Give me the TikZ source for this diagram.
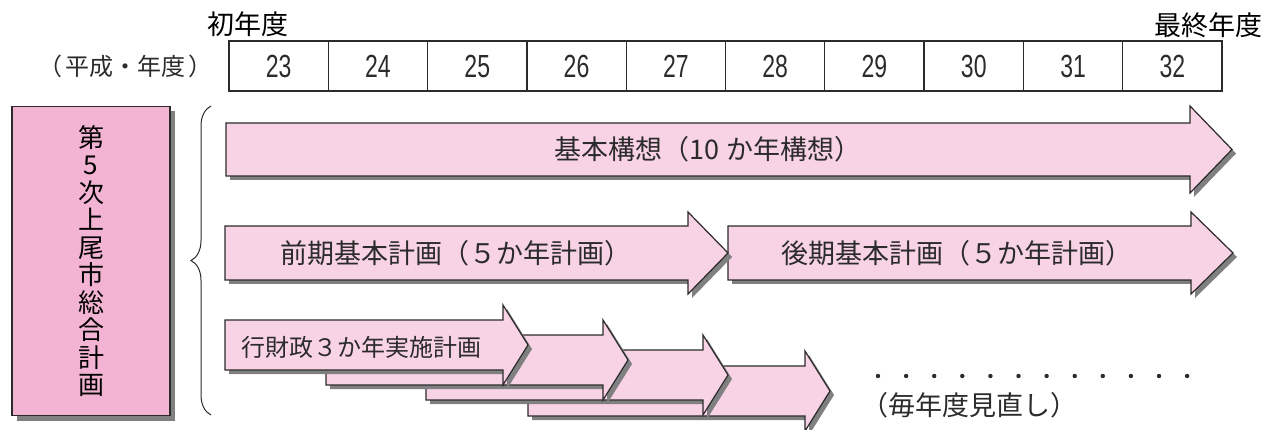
\documentclass[tikz,border=0pt]{standalone}
\usepackage{fontspec}
\usepackage{xcolor}
\usepackage{tikz}
\usetikzlibrary{decorations.pathreplacing,shadows}

\newfontfamily\jpfont{Noto Sans CJK JP}
\newfontfamily\numfont[FakeStretch=0.72]{Liberation Sans}

\definecolor{planpink}{HTML}{F8D3E5}
\definecolor{boxpink}{HTML}{F3B4D4}
\definecolor{shadowgray}{HTML}{808080}
\definecolor{inkgray}{HTML}{2B2B2B}

% arrow: left, top, bottom, head base, tip, head overhang
\newcommand{\planarrow}[6]{%
  \fill[shadowgray, shift={(4,4)}] (#1,#2) -- (#4,#2) -- (#4,{#2-#6}) -- (#5,{(#2+#3)/2}) -- (#4,{#3+#6}) -- (#4,#3) -- (#1,#3) -- cycle;
  \filldraw[arrowbody] (#1,#2) -- (#4,#2) -- (#4,{#2-#6}) -- (#5,{(#2+#3)/2}) -- (#4,{#3+#6}) -- (#4,#3) -- (#1,#3) -- cycle;
}

\tikzset{
  arrowbody/.style={fill=planpink, draw=inkgray, line width=1.2pt, line join=miter},
  yearcell/.style={draw=inkgray, line width=1.3pt, minimum width=99.3pt, minimum height=50pt, inner sep=0pt,
    text=inkgray, font=\numfont\fontsize{32}{32}\selectfont},
  planlabel/.style={text=inkgray, inner sep=0pt, font=\jpfont\fontsize{27}{27}\selectfont},
  headlabel/.style={text=black, inner sep=0pt, font=\jpfont\fontsize{27}{27}\selectfont}
}

\begin{document}
\begin{tikzpicture}[x=1pt, y=-1pt]
        \useasboundingbox (0,0) rectangle (1266,430);

        % Drawing the year table
        \node[headlabel] (first) at (248,24) {初年度};
        \node[headlabel, anchor=east] (last) at (1263,25) {最終年度};
        \node[headlabel, text=inkgray, font=\jpfont\fontsize{24}{24}\selectfont] (era) at (125,66) {（\hspace{3pt}平成・年度\hspace{3pt}）};
        \foreach \yr [count=\i from 0] in {23,...,32}
            \node[yearcell] (y\yr) at ({229+99.3*(\i+0.5)},66) {\yr};

        % Drawing the plan box and the brace
        \node[draw=inkgray, line width=1.2pt, fill=boxpink, minimum width=158pt, minimum height=309pt,
            drop shadow={shadow xshift=5pt, shadow yshift=-5pt, fill=shadowgray, opacity=1},
            align=center, inner sep=0pt, font=\jpfont\fontsize{26}{27.5}\selectfont] (plan) at (91,261)
            {第\\5\\次\\上\\尾\\市\\総\\合\\計\\画};
        \draw[inkgray, line width=1pt, decorate, decoration={brace, amplitude=20pt, aspect=0.5}] (211,415) -- (211,106);

        % Drawing the plan arrows
        \planarrow{226}{123}{176}{1190}{1232}{17}
        \planarrow{728}{226}{280}{1191}{1233}{14}
        \planarrow{225}{226}{280}{688}{728}{14}
        \planarrow{528}{366}{416}{805}{830}{15}
        \planarrow{426}{350}{400}{703}{728}{15}
        \planarrow{326}{335}{385}{603}{628}{15}
        \planarrow{225}{320}{370}{503}{528}{15}

        \node[planlabel] (kihon) at (708,149) {基本構想（10 か年構想）};
        \node[planlabel] (zenki) at (456,253) {前期基本計画（５か年計画）};
        \node[planlabel] (kouki) at (957,253) {後期基本計画（５か年計画）};
        \node[planlabel, font=\jpfont\fontsize{24}{24}\selectfont] (gyozai) at (361.5,347) {行財政３か年実施計画};

        % Drawing the dots
        \foreach \k in {0,...,11}
            \fill[inkgray] ({878+28.1*\k},376) circle (2.2pt);
        \node[planlabel] (minaoshi) at (969,405) {（毎年度見直し）};
    \end{tikzpicture}
\end{document}
